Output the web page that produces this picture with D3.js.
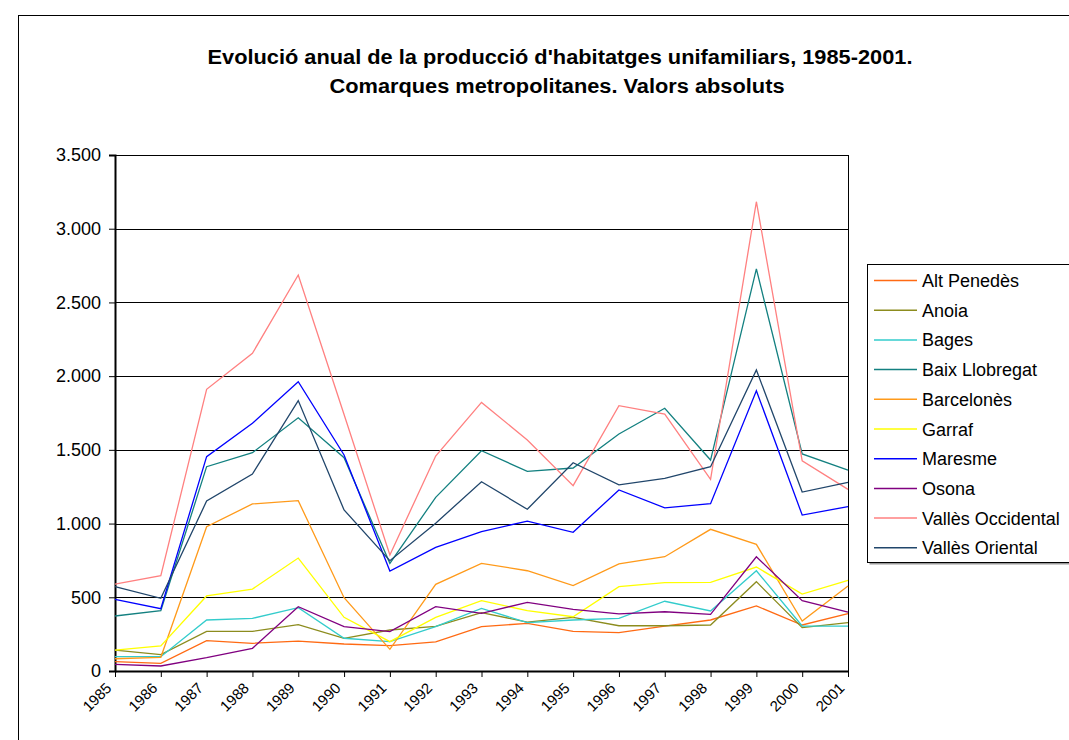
<!DOCTYPE html>
<html>
<head>
<meta charset="utf-8">
<script src="https://cdn.jsdelivr.net/npm/d3@7"></script>
<style>
  body { margin: 0; background: #fff; }
  text { font-family: Arial, 'Liberation Sans', sans-serif; }
</style>
</head>
<body>
<div id="svg-area"></div>
<script>
// chart values
var years = ['1985', '1986', '1987', '1988', '1989', '1990', '1991', '1992', '1993',
  '1994', '1995', '1996', '1997', '1998', '1999', '2000', '2001'];
var y_ticks = [0, 500, 1000, 1500, 2000, 2500, 3000, 3500];

var alt_penedes = [63, 52, 206, 188, 203, 183, 172, 197, 301, 323, 269, 260, 305, 346, 441, 312, 389];
var anoia = [142, 111, 269, 269, 314, 222, 278, 303, 396, 332, 364, 307, 307, 312, 606, 294, 328];
var bages = [97, 97, 346, 357, 430, 222, 199, 301, 425, 328, 346, 357, 473, 407, 680, 305, 305];
var baix_llobregat = [373, 409, 1386, 1481, 1718, 1447, 730, 1178, 1494, 1354, 1377, 1608, 1782, 1431, 2727, 1472, 1363];
var barcelones = [83, 93, 979, 1133, 1155, 497, 147, 588, 730, 680, 579, 726, 775, 961, 859, 339, 577];
var garraf = [142, 170, 509, 556, 766, 364, 199, 364, 477, 409, 368, 572, 599, 601, 705, 522, 615];
var maresme = [486, 423, 1454, 1680, 1962, 1465, 678, 839, 945, 1017, 941, 1228, 1106, 1135, 1901, 1058, 1115];
var osona = [45, 34, 90, 154, 436, 301, 267, 436, 391, 466, 418, 387, 402, 384, 775, 477, 400];
var valles_occidental = [590, 646, 1911, 2155, 2686, 1740, 787, 1458, 1822, 1567, 1257, 1800, 1743, 1300, 3183, 1426, 1232];
var valles_oriental = [572, 493, 1153, 1336, 1834, 1092, 748, 1002, 1284, 1097, 1413, 1262, 1307, 1386, 2042, 1214, 1280];

var series_names = ['Alt Penedès', 'Anoia', 'Bages', 'Baix Llobregat', 'Barcelonès',
  'Garraf', 'Maresme', 'Osona', 'Vallès Occidental', 'Vallès Oriental'];
var series_values = [alt_penedes, anoia, bages, baix_llobregat, barcelones,
  garraf, maresme, osona, valles_occidental, valles_oriental];
var series_colors = ['#ff6a13', '#8c8c1e', '#33cccc', '#138080', '#ff9a1a',
  '#ffff00', '#0000ff', '#800080', '#ff8080', '#21466b'];

var svg_width = 1069,
    svg_height = 740;

var plot_left = 115,
    plot_right = 848,
    plot_top = 155,
    plot_bottom = 671;

var svg = d3.select('#svg-area')
  .append('svg')
  .attr('width', svg_width)
  .attr('height', svg_height);

svg.append('rect')
  .attr('width', svg_width)
  .attr('height', svg_height)
  .attr('fill', '#ffffff');

// outer chart frame
svg.append('rect')
  .attr('x', 18.5)
  .attr('y', 15.5)
  .attr('width', 1100)
  .attr('height', 800)
  .attr('fill', 'none')
  .attr('stroke', '#000')
  .attr('stroke-width', 1);

var title = svg.append('g')
  .attr('class', 'title')
  .attr('font-weight', 'bold')
  .attr('font-size', '20px')
  .attr('text-anchor', 'middle');

title.append('text')
  .attr('x', 560)
  .attr('y', 64)
  .attr('textLength', 705)
  .attr('lengthAdjust', 'spacingAndGlyphs')
  .text("Evolució anual de la producció d'habitatges unifamiliars, 1985-2001.");

title.append('text')
  .attr('x', 557)
  .attr('y', 93)
  .attr('textLength', 455)
  .attr('lengthAdjust', 'spacingAndGlyphs')
  .text('Comarques metropolitanes. Valors absoluts');

var x_scale = d3.scalePoint()
  .domain(years)
  .range([plot_left, plot_right]);

var y_scale = d3.scaleLinear()
  .domain([0, 3500])
  .range([plot_bottom, plot_top]);

// gridlines
svg.append('g')
  .attr('class', 'grid')
  .selectAll('line')
  .data(y_ticks.filter(d => d > 0))
  .enter()
  .append('line')
  .attr('x1', plot_left)
  .attr('x2', plot_right)
  .attr('y1', d => Math.round(y_scale(d)) + 0.5)
  .attr('y2', d => Math.round(y_scale(d)) + 0.5)
  .attr('stroke', '#000')
  .attr('stroke-width', 1);

// right border of plot
svg.append('line')
  .attr('x1', plot_right + 0.5)
  .attr('x2', plot_right + 0.5)
  .attr('y1', plot_top)
  .attr('y2', plot_bottom)
  .attr('stroke', '#000');

var y_axis = d3.axisLeft(y_scale)
  .tickValues(y_ticks)
  .tickSize(6)
  .tickPadding(8)
  .tickFormat(d => d3.format(',')(d).replace(/,/g, '.'));

var y_axis_g = svg.append('g')
  .attr('class', 'y_axis')
  .attr('transform', 'translate(' + plot_left + ', 0)')
  .call(y_axis);

y_axis_g.select('.domain').attr('stroke-width', 2);
y_axis_g.selectAll('text')
  .attr('font-size', '18px')
  .attr('fill', '#000')
  .attr('font-family', 'Arial, Liberation Sans, sans-serif');

var x_axis = d3.axisBottom(x_scale)
  .tickSize(6)
  .tickSizeOuter(0);

var x_axis_g = svg.append('g')
  .attr('class', 'x_axis')
  .attr('transform', 'translate(0, ' + plot_bottom + ')')
  .call(x_axis);

x_axis_g.select('.domain').attr('stroke-width', 2);
x_axis_g.selectAll('text')
  .attr('font-size', '15px')
  .attr('fill', '#000')
  .attr('font-family', 'Arial, Liberation Sans, sans-serif')
  .attr('text-anchor', 'end')
  .attr('dy', null)
  .attr('y', 0)
  .attr('transform', 'translate(-3, 18) rotate(-45)');

// series lines
var line = d3.line()
  .x((d, i) => x_scale(years[i]))
  .y(d => y_scale(d));

svg.append('g')
  .attr('class', 'lines')
  .selectAll('path')
  .data(series_values)
  .enter()
  .append('path')
  .attr('d', d => line(d))
  .attr('fill', 'none')
  .attr('stroke', (d, i) => series_colors[i])
  .attr('stroke-width', 1.3)
  .attr('stroke-linejoin', 'miter');

// legend
var legend = svg.append('g')
  .attr('class', 'legend')
  .attr('transform', 'translate(867, 264)');

legend.append('rect')
  .attr('x', 2.5)
  .attr('y', 2.5)
  .attr('width', 230)
  .attr('height', 298)
  .attr('fill', '#999');

legend.append('rect')
  .attr('x', 0.5)
  .attr('y', 0.5)
  .attr('width', 230)
  .attr('height', 298)
  .attr('fill', '#fff')
  .attr('stroke', '#000');

var legend_items = legend.selectAll('.legend_item')
  .data(series_names)
  .enter()
  .append('g')
  .attr('class', 'legend_item')
  .attr('transform', (d, i) => 'translate(0, ' + (16.5 + i * 29.7) + ')');

legend_items.append('line')
  .attr('x1', 7)
  .attr('x2', 50)
  .attr('y1', 0)
  .attr('y2', 0)
  .attr('stroke', (d, i) => series_colors[i])
  .attr('stroke-width', 1.5);

legend_items.append('text')
  .attr('x', 55)
  .attr('y', 6.5)
  .attr('font-size', '18px')
  .text(d => d);
</script>
</body>
</html>
